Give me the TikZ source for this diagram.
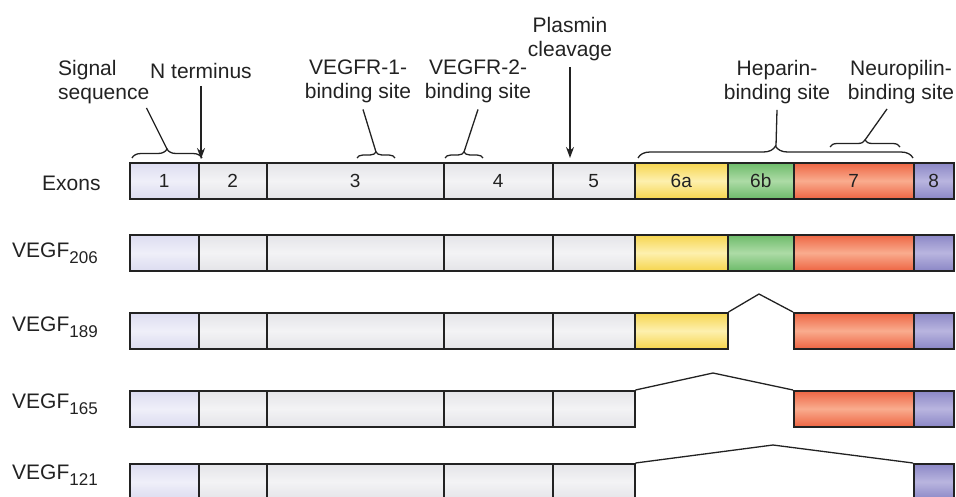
\documentclass[tikz,border=0pt]{standalone}
\usepackage{fontspec}
\setmainfont{Liberation Sans}
\usetikzlibrary{arrows.meta,positioning,decorations.pathreplacing}
\definecolor{ink}{HTML}{222222}
\definecolor{lav}{HTML}{DCDCF0}
\definecolor{lavmid}{HTML}{EFEFF9}
\definecolor{pale}{HTML}{E4E4E8}
\definecolor{palemid}{HTML}{F3F3F5}
\definecolor{yel}{HTML}{F6D54E}
\definecolor{yelmid}{HTML}{FDF0AE}
\definecolor{grn}{HTML}{6DBB6A}
\definecolor{grnmid}{HTML}{ADDBA6}
\definecolor{org}{HTML}{EE6543}
\definecolor{orgmid}{HTML}{F9AC8E}
\definecolor{pur}{HTML}{8B87C6}
\definecolor{purmid}{HTML}{B9B5DF}
\newcommand{\subnum}[1]{\raisebox{-6pt}{\fontsize{17}{17}\selectfont #1}}

\begin{document}
\begin{tikzpicture}[x=1pt,y=-1pt,
  exon/.style={draw=ink,line width=1.5pt,minimum height=36pt,inner sep=0pt,anchor=north west,font=\fontsize{19}{19}\selectfont,text=ink},
  lavbox/.style={exon,top color=lav,bottom color=lav,middle color=lavmid},
  palebox/.style={exon,top color=pale,bottom color=pale,middle color=palemid},
  yelbox/.style={exon,top color=yel,bottom color=yel,middle color=yelmid},
  grnbox/.style={exon,top color=grn,bottom color=grn,middle color=grnmid},
  orgbox/.style={exon,top color=org,bottom color=org,middle color=orgmid},
  purbox/.style={exon,top color=pur,bottom color=pur,middle color=purmid},
  lbl/.style={font=\fontsize{21}{24}\selectfont,text=ink,inner sep=0pt},
  lead/.style={ink,line width=1.3pt},
  bracket/.style={ink,line width=1.3pt,decorate},
  splice/.style={ink,line width=1.3pt},
  pointer/.style={ink,line width=1.5pt,-{Stealth[length=11pt,width=8pt]}}]
  \useasboundingbox (0,0) rectangle (956,496);

  % Exons
  \node[lbl,anchor=base west] (exons) at (42,190) {Exons};
  \node[lavbox,minimum width=69pt] (ex1) at (129,162) {1};
  \node[palebox,minimum width=68pt] (ex2) at (198,162) {2};
  \node[palebox,minimum width=177pt] (ex3) at (266,162) {3};
  \node[palebox,minimum width=109pt] (ex4) at (443,162) {4};
  \node[palebox,minimum width=82pt] (ex5) at (552,162) {5};
  \node[yelbox,minimum width=93pt] (ex6a) at (634,162) {6a};
  \node[grnbox,minimum width=66pt] (ex6b) at (727,162) {6b};
  \node[orgbox,minimum width=120pt] (ex7) at (793,162) {7};
  \node[purbox,minimum width=40pt] (ex8) at (913,162) {8};

  % VEGF206
  \node[lbl,anchor=base west] (n206) at (12,257) {VEGF\subnum{206}};
  \node[lavbox,minimum width=69pt] (v206-1) at (129,234) {};
  \node[palebox,minimum width=68pt] (v206-2) at (198,234) {};
  \node[palebox,minimum width=177pt] (v206-3) at (266,234) {};
  \node[palebox,minimum width=109pt] (v206-4) at (443,234) {};
  \node[palebox,minimum width=82pt] (v206-5) at (552,234) {};
  \node[yelbox,minimum width=93pt] (v206-6a) at (634,234) {};
  \node[grnbox,minimum width=66pt] (v206-6b) at (727,234) {};
  \node[orgbox,minimum width=120pt] (v206-7) at (793,234) {};
  \node[purbox,minimum width=40pt] (v206-8) at (913,234) {};

  % VEGF189
  \node[lbl,anchor=base west] (n189) at (12,331) {VEGF\subnum{189}};
  \node[lavbox,minimum width=69pt] (v189-1) at (129,312) {};
  \node[palebox,minimum width=68pt] (v189-2) at (198,312) {};
  \node[palebox,minimum width=177pt] (v189-3) at (266,312) {};
  \node[palebox,minimum width=109pt] (v189-4) at (443,312) {};
  \node[palebox,minimum width=82pt] (v189-5) at (552,312) {};
  \node[yelbox,minimum width=93pt] (v189-6a) at (634,312) {};
  \node[orgbox,minimum width=120pt] (v189-7) at (793,312) {};
  \node[purbox,minimum width=40pt] (v189-8) at (913,312) {};
  \coordinate (v189peak) at (759,294);
  \draw[splice] (v189-6a.north east) -- (v189peak) -- (v189-7.north west);

  % VEGF165
  \node[lbl,anchor=base west] (n165) at (12,408) {VEGF\subnum{165}};
  \node[lavbox,minimum width=69pt] (v165-1) at (129,390) {};
  \node[palebox,minimum width=68pt] (v165-2) at (198,390) {};
  \node[palebox,minimum width=177pt] (v165-3) at (266,390) {};
  \node[palebox,minimum width=109pt] (v165-4) at (443,390) {};
  \node[palebox,minimum width=82pt] (v165-5) at (552,390) {};
  \node[orgbox,minimum width=120pt] (v165-7) at (793,390) {};
  \node[purbox,minimum width=40pt] (v165-8) at (913,390) {};
  \coordinate (v165peak) at (713,373);
  \draw[splice] (v165-5.north east) -- (v165peak) -- (v165-7.north west);

  % VEGF121
  \node[lbl,anchor=base west] (n121) at (12,479) {VEGF\subnum{121}};
  \node[lavbox,minimum width=69pt] (v121-1) at (129,463) {};
  \node[palebox,minimum width=68pt] (v121-2) at (198,463) {};
  \node[palebox,minimum width=177pt] (v121-3) at (266,463) {};
  \node[palebox,minimum width=109pt] (v121-4) at (443,463) {};
  \node[palebox,minimum width=82pt] (v121-5) at (552,463) {};
  \node[purbox,minimum width=40pt] (v121-8) at (913,463) {};
  \coordinate (v121peak) at (773,445);
  \draw[splice] (v121-5.north east) -- (v121peak) -- (v121-8.north west);

  % Site labels
  \node[lbl,align=left,anchor=north west] (sig) at (58,60) {Signal\\sequence};
  \node[lbl,anchor=north] (nterm) at (201,63) {N terminus};
  \node[lbl,align=center,anchor=north] (vr1) at (358,60) {VEGFR-1-\\binding site};
  \node[lbl,align=center,anchor=north] (vr2) at (478,60) {VEGFR-2-\\binding site};
  \node[lbl,align=center,anchor=north] (plas) at (570,17) {Plasmin\\cleavage};
  \node[lbl,align=center,anchor=north] (hep) at (777,60) {Heparin-\\binding site};
  \node[lbl,align=center,anchor=north] (neu) at (901,60) {Neuropilin-\\binding site};

  % Braces and leads
  \draw[bracket,decoration={brace,amplitude=9pt}] (132,158) -- (202,158);
  \coordinate (sigtip) at (167,149);
  \draw[lead] (sigtip) -- ([xshift=-3pt,yshift=-4pt]sig.south east);
  \draw[bracket,decoration={brace,amplitude=6pt}] (357,158) -- (395,158);
  \coordinate (vr1tip) at (376,152);
  \draw[lead] (vr1tip) -- ([xshift=5pt,yshift=-6pt]vr1.south);
  \draw[bracket,decoration={brace,amplitude=6pt}] (445,158) -- (483,158);
  \coordinate (vr2tip) at (464,152);
  \draw[lead] (vr2tip) -- ([yshift=-6pt]vr2.south);
  \draw[bracket,decoration={brace,amplitude=12pt}] (638,158) -- (913,158);
  \coordinate (heptip) at (776,146);
  \draw[lead] (heptip) -- ([yshift=-6pt]hep.south);
  \draw[bracket,decoration={brace,amplitude=7pt}] (830,147) -- (900,147);
  \coordinate (neutip) at (865,140);
  \draw[lead] (neutip) -- ([xshift=-14pt,yshift=-5pt]neu.south);

  % Arrows
  \draw[pointer,shorten >=3pt] ([yshift=-7pt]nterm.south) -- (nterm.south |- ex2.north);
  \draw[pointer,shorten >=4pt] ([yshift=-6pt]plas.south) -- (plas.south |- ex5.north);
\end{tikzpicture}
\end{document}
